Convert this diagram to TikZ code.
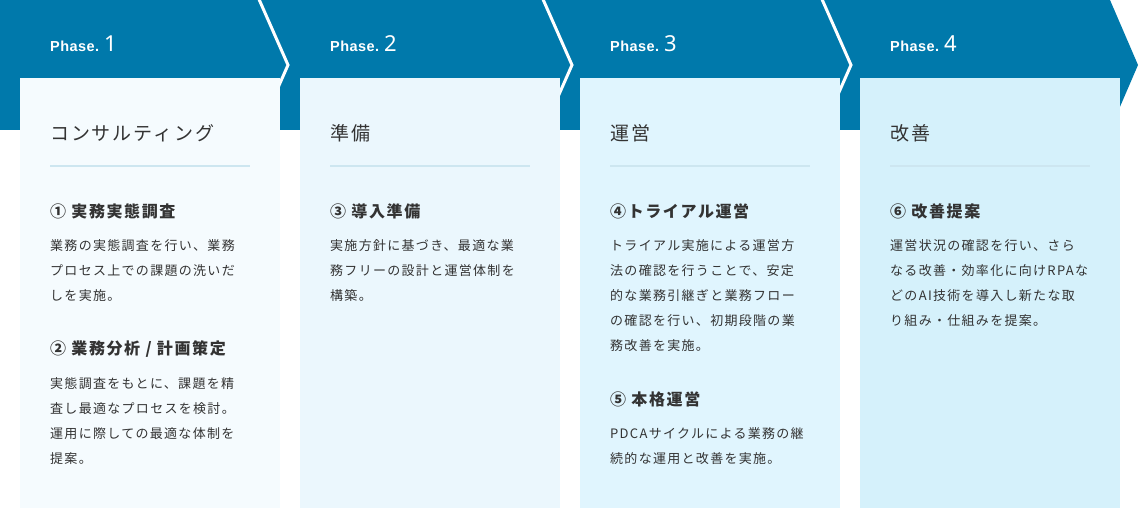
\documentclass[tikz,border=0pt]{standalone}
\usepackage{fontspec}
\setmainfont{Noto Sans CJK JP}
\newfontfamily\phasefont[LetterSpace=3]{Liberation Sans}
\newfontfamily\phasenum{Noto Sans}
\newfontfamily\jpfont[LetterSpace=10]{Noto Sans CJK JP}
\usetikzlibrary{positioning}
\definecolor{phBlue}{RGB}{0,121,171}
\definecolor{phText}{RGB}{51,51,51}
\definecolor{phRule}{RGB}{205,230,240}
\definecolor{phCardA}{RGB}{245,251,254}
\definecolor{phCardB}{RGB}{235,247,253}
\definecolor{phCardC}{RGB}{224,245,254}
\definecolor{phCardD}{RGB}{213,241,251}
\newcommand{\phasetag}[1]{{\phasefont\bfseries\fontsize{14.5}{15}\selectfont Phase.}\hspace{5pt}{\phasenum\fontsize{22}{22}\selectfont #1}}

\begin{document}
\begin{tikzpicture}[x=1pt, y=-1pt,
  card/.style={inner sep=0pt, outer sep=0pt, minimum width=260pt, minimum height=430pt},
  sepline/.style={draw=white, line width=3pt, miter limit=10},
  phaselbl/.style={anchor=base west, inner sep=0pt, text=white},
  cardtitle/.style={anchor=west, inner sep=0pt, text=phText, font=\jpfont\fontsize{19}{22}\selectfont},
  cardrule/.style={draw=phRule, line width=1.5pt},
  itemhead/.style={anchor=west, inner sep=0pt, text=phText, font=\jpfont\bfseries\fontsize{16}{20}\selectfont},
  itembody/.style={anchor=north west, inner sep=0pt, align=left, text=phText, font=\jpfont\fontsize{13}{25}\selectfont}]
  \useasboundingbox (0,0) rectangle (1140,508);
  % arrow band
  \fill[phBlue] (0,0) -- (1110,0) -- (1138,65) -- (1110,130) -- (0,130) -- cycle;
  \draw[sepline] (258,-3) -- (288,65) -- (258,133);
  \draw[sepline] (542,-3) -- (572,65) -- (542,133);
  \draw[sepline] (821,-3) -- (851,65) -- (821,133);
  \node[phaselbl] (ph1) at (50,52) {\phasetag{1}};
  \node[phaselbl] (ph2) at (330,52) {\phasetag{2}};
  \node[phaselbl] (ph3) at (610,52) {\phasetag{3}};
  \node[phaselbl] (ph4) at (890,52) {\phasetag{4}};

  % cards
  \node[card, fill=phCardA, anchor=north west] (consult) at (20,78) {};
  \node[card, fill=phCardB, right=20pt of consult] (prep) {};
  \node[card, fill=phCardC, right=20pt of prep] (oper) {};
  \node[card, fill=phCardD, right=20pt of oper] (improve) {};

  % Phase 1
  \node[cardtitle] (consultT) at (50,133) {コンサルティング};
  \draw[cardrule] (50,166) -- (250,166);
  \node[itemhead] (item1) at (50,211) {① 実務実態調査};
  \node[itembody] (item1b) at (50,232.5) {\strut 業務の実態調査を行い、業務\\プロセス上での課題の洗いだ\\しを実施。};
  \node[itemhead] (item2) at (50,349) {② 業務分析 / 計画策定};
  \node[itembody] (item2b) at (50,370.5) {\strut 実態調査をもとに、課題を精\\査し最適なプロセスを検討。\\運用に際しての最適な体制を\\提案。};

  % Phase 2
  \node[cardtitle] (prepT) at (330,133) {準備};
  \draw[cardrule] (330,166) -- (530,166);
  \node[itemhead] (item3) at (330,211) {③ 導入準備};
  \node[itembody] (item3b) at (330,232.5) {\strut 実施方針に基づき、最適な業\\務フリーの設計と運営体制を\\構築。};

  % Phase 3
  \node[cardtitle] (operT) at (610,133) {運営};
  \draw[cardrule] (610,166) -- (810,166);
  \node[itemhead] (item4) at (610,211) {④トライアル運営};
  \node[itembody] (item4b) at (610,232.5) {\strut トライアル実施による運営方\\法の確認を行うことで、安定\\的な業務引継ぎと業務フロー\\の確認を行い、初期段階の業\\務改善を実施。};
  \node[itemhead] (item5) at (610,399) {⑤ 本格運営};
  \node[itembody] (item5b) at (610,420.5) {\strut PDCAサイクルによる業務の継\\続的な運用と改善を実施。};

  % Phase 4
  \node[cardtitle] (improveT) at (890,133) {改善};
  \draw[cardrule] (890,166) -- (1090,166);
  \node[itemhead] (item6) at (890,211) {⑥ 改善提案};
  \node[itembody] (item6b) at (890,232.5) {\strut 運営状況の確認を行い、さら\\なる改善・効率化に向けRPAな\\どのAI技術を導入し新たな取\\り組み・仕組みを提案。};
\end{tikzpicture}
\end{document}
